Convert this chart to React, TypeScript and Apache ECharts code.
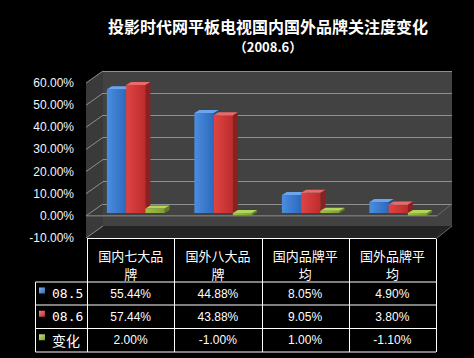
import React, { useEffect, useRef } from "react";
import * as echarts from "echarts";

const titleText = "投影时代网平板电视国内国外品牌关注度变化";
const subtitleText = "（2008.6）";
const categories = ["国内七大品牌", "国外八大品牌", "国内品牌平均", "国外品牌平均"];
const seriesNames = ["08.5", "08.6", "变化"];
const values085 = [55.44, 44.88, 8.05, 4.9];
const values086 = [57.44, 43.88, 9.05, 3.8];
const valuesChange = [2.0, -1.0, 1.0, -1.1];
const yTicks = [-10, 0, 10, 20, 30, 40, 50, 60];

const seriesData = [values085, values086, valuesChange];
const palettes = [
  { front: ["#4a8ee2", "#2f68bb"], top: "#6aa6ee", side: "#22518f", legend: ["#7fb2f0", "#2f68bb"] },
  { front: ["#e04444", "#bd2c2c"], top: "#ea6a6a", side: "#8a2020", legend: ["#f08080", "#bd2c2c"] },
  { front: ["#9cc23e", "#7fa02e"], top: "#b3d65a", side: "#607d22", legend: ["#c4e07a", "#7fa02e"] },
];

// geometry (layout only)
const BACK_L = 103, BACK_R = 452, BACK_T = 71, BACK_B = 226;
const FRONT_DX = -17, FRONT_DY = 12;
const DEPTH_DX = 5, DEPTH_DY = 3;
const TABLE_L = 87, COL_W = 87.25, LEG_L = 35.5;
const HEAD_T = 238.5, ROW_T = [282, 305, 328.5, 352];

function App() {
  const ref = useRef<HTMLDivElement>(null);
  useEffect(() => {
    if (!ref.current) return;
    const chart = echarts.init(ref.current, undefined, { renderer: "svg" });
    const per = (BACK_B - BACK_T) / (yTicks.length - 1);

    const graphics: any[] = [];
    // side wall
    graphics.push({
      type: "polygon", z: 1,
      shape: { points: [[BACK_L + FRONT_DX, BACK_T + FRONT_DY], [BACK_L, BACK_T], [BACK_L, BACK_B], [BACK_L + FRONT_DX, BACK_B + FRONT_DY]] },
      style: { fill: "#3a3a3a" },
    });
    yTicks.forEach((_, i) => {
      const yb = BACK_T + i * per;
      graphics.push({
        type: "line", z: 2,
        shape: { x1: BACK_L + FRONT_DX, y1: yb + FRONT_DY, x2: BACK_L, y2: yb },
        style: { stroke: "#8f8f8f", lineWidth: 1 },
      });
    });
    // bottom floor
    graphics.push({
      type: "polygon", z: 1,
      shape: { points: [[BACK_L, BACK_B], [BACK_R, BACK_B], [BACK_R + FRONT_DX + 2, BACK_B + FRONT_DY], [BACK_L + FRONT_DX, BACK_B + FRONT_DY]] },
      style: { fill: "#242424" },
    });
    graphics.push({
      type: "line", z: 2,
      shape: { x1: BACK_R, y1: BACK_B, x2: BACK_R + FRONT_DX + 2, y2: BACK_B + FRONT_DY },
      style: { stroke: "#6a6a6a", lineWidth: 1 },
    });
    // zero floor front edge
    const zeroBack = BACK_T + 6 * per;
    graphics.push({
      type: "line", z: 2,
      shape: { x1: BACK_L + FRONT_DX, y1: zeroBack + FRONT_DY, x2: BACK_R + FRONT_DX + 2, y2: zeroBack + FRONT_DY },
      style: { stroke: "#8f8f8f", lineWidth: 1 },
    });
    graphics.push({
      type: "line", z: 2,
      shape: { x1: BACK_R, y1: zeroBack, x2: BACK_R + FRONT_DX + 2, y2: zeroBack + FRONT_DY },
      style: { stroke: "#6a6a6a", lineWidth: 1 },
    });

    // table
    const tableR = TABLE_L + COL_W * categories.length;
    const lineStyle = { stroke: "#ffffff", lineWidth: 1 };
    graphics.push({ type: "line", z: 3, shape: { x1: TABLE_L, y1: HEAD_T, x2: tableR, y2: HEAD_T }, style: lineStyle });
    ROW_T.forEach((y) => {
      graphics.push({ type: "line", z: 3, shape: { x1: LEG_L, y1: y, x2: tableR, y2: y }, style: lineStyle });
    });
    graphics.push({ type: "line", z: 3, shape: { x1: LEG_L, y1: ROW_T[0], x2: LEG_L, y2: ROW_T[ROW_T.length - 1] }, style: lineStyle });
    for (let c = 0; c <= categories.length; c++) {
      const x = Math.round(TABLE_L + c * COL_W) + 0.5;
      graphics.push({ type: "line", z: 3, shape: { x1: x, y1: HEAD_T, x2: x, y2: ROW_T[ROW_T.length - 1] }, style: lineStyle });
    }
    categories.forEach((cat, c) => {
      const cx = TABLE_L + (c + 0.5) * COL_W;
      const lines = [cat.slice(0, 5), cat.slice(5)];
      lines.forEach((ln, k) => {
        graphics.push({
          type: "text", z: 4, x: cx, y: 255 + k * 18,
          style: { text: ln, fill: "#ffffff", font: '13px "Noto Sans CJK SC"', align: "center", verticalAlign: "middle" },
        });
      });
    });
    seriesData.forEach((arr, s) => {
      const cy = (ROW_T[s] + ROW_T[s + 1]) / 2;
      arr.forEach((v, c) => {
        graphics.push({
          type: "text", z: 4, x: TABLE_L + (c + 0.5) * COL_W, y: cy,
          style: { text: v.toFixed(2) + "%", fill: "#ffffff", font: '12px "Liberation Sans"', align: "center", verticalAlign: "middle" },
        });
      });
      graphics.push({
        type: "rect", z: 4,
        shape: { x: 39, y: cy - 6, width: 6, height: 6 },
        style: {
          fill: new echarts.graphic.LinearGradient(0, 0, 1, 1, [
            { offset: 0, color: palettes[s].legend[0] },
            { offset: 1, color: palettes[s].legend[1] },
          ]),
        },
      });
      graphics.push({
        type: "text", z: 4, x: 52, y: cy,
        style: {
          text: seriesNames[s], fill: "#ffffff",
          font: s === 2 ? '14px "Noto Sans CJK SC"' : '13px "DejaVu Sans Mono"',
          align: "left", verticalAlign: "middle",
        },
      });
    });

    const makeRender = (s: number) => (params: any, api: any) => {
      const ci = api.value(0);
      const v = api.value(1);
      const pv = api.coord([ci, v]);
      const p0 = api.coord([ci, 0]);
      const band = api.size([1, 0])[0];
      const w = band * 0.22;
      const x0 = pv[0] - w / 2 + (s - 1) * w;
      const yTop = Math.min(pv[1], p0[1]);
      const yBot = Math.max(pv[1], p0[1]);
      const pal = palettes[s];
      return {
        type: "group",
        children: [
          {
            type: "polygon",
            shape: { points: [[x0 + w, yTop], [x0 + w + DEPTH_DX, yTop - DEPTH_DY], [x0 + w + DEPTH_DX, yBot - DEPTH_DY], [x0 + w, yBot]] },
            style: { fill: pal.side },
          },
          {
            type: "rect",
            shape: { x: x0, y: yTop, width: w, height: Math.max(yBot - yTop, 1) },
            style: {
              fill: new echarts.graphic.LinearGradient(0, 0, 1, 0, [
                { offset: 0, color: pal.front[0] },
                { offset: 1, color: pal.front[1] },
              ]),
            },
          },
          {
            type: "polygon",
            shape: { points: [[x0, yTop], [x0 + w, yTop], [x0 + w + DEPTH_DX, yTop - DEPTH_DY], [x0 + DEPTH_DX, yTop - DEPTH_DY]] },
            style: { fill: pal.top },
          },
        ],
      };
    };

    const barsBase = 213;
    const barsTop = barsBase - 6 * 22.3;
    const barsH = 7 * 22.3;

    chart.setOption({
      animation: false,
      backgroundColor: "#000000",
      title: [
        { text: titleText, left: 263, top: 13, textAlign: "center", textStyle: { color: "#ffffff", fontSize: 16, fontWeight: "bold", fontFamily: "Noto Sans CJK SC" } },
        { text: subtitleText, left: 263, top: 35, textAlign: "center", textStyle: { color: "#ffffff", fontSize: 13, fontWeight: "bold", fontFamily: "Noto Sans CJK SC" } },
      ],
      grid: [
        { left: BACK_L + FRONT_DX, top: BACK_T + FRONT_DY, width: BACK_R - BACK_L, height: BACK_B - BACK_T, containLabel: false },
        { left: BACK_L, top: BACK_T, width: BACK_R - BACK_L, height: BACK_B - BACK_T, show: true, backgroundColor: "#424242", borderWidth: 0 },
        { left: 92, top: barsTop, width: 350, height: barsH },
      ],
      xAxis: [
        { type: "category", gridIndex: 0, data: categories, show: false },
        { type: "category", gridIndex: 1, data: categories, show: false },
        { type: "category", gridIndex: 2, data: categories, show: false },
      ],
      yAxis: [
        {
          type: "value", gridIndex: 0, min: -10, max: 60, interval: 10,
          axisLine: { show: false }, axisTick: { show: false }, splitLine: { show: false },
          axisLabel: { color: "#f2f6ff", fontSize: 12, fontFamily: "Liberation Sans", margin: 12, formatter: (v: number) => v.toFixed(2) + "%" },
        },
        {
          type: "value", gridIndex: 1, min: -10, max: 60, interval: 10,
          axisLine: { show: false }, axisTick: { show: false }, axisLabel: { show: false },
          splitLine: { show: true, lineStyle: { color: "#8f8f8f", width: 1 } },
        },
        { type: "value", gridIndex: 2, min: -10, max: 60, interval: 10, show: false, splitLine: { show: false } },
      ],
      graphic: graphics,
      series: seriesData.map((arr, s) => ({
        type: "custom",
        name: seriesNames[s],
        xAxisIndex: 2,
        yAxisIndex: 2,
        z: 5,
        renderItem: makeRender(s),
        data: arr.map((v, i) => [i, v]),
      })),
    });
    return () => chart.dispose();
  }, []);
  return <div ref={ref} style={{ position: "fixed", left: 0, top: 0, width: 474, height: 358 }} />;
}

export default App;
